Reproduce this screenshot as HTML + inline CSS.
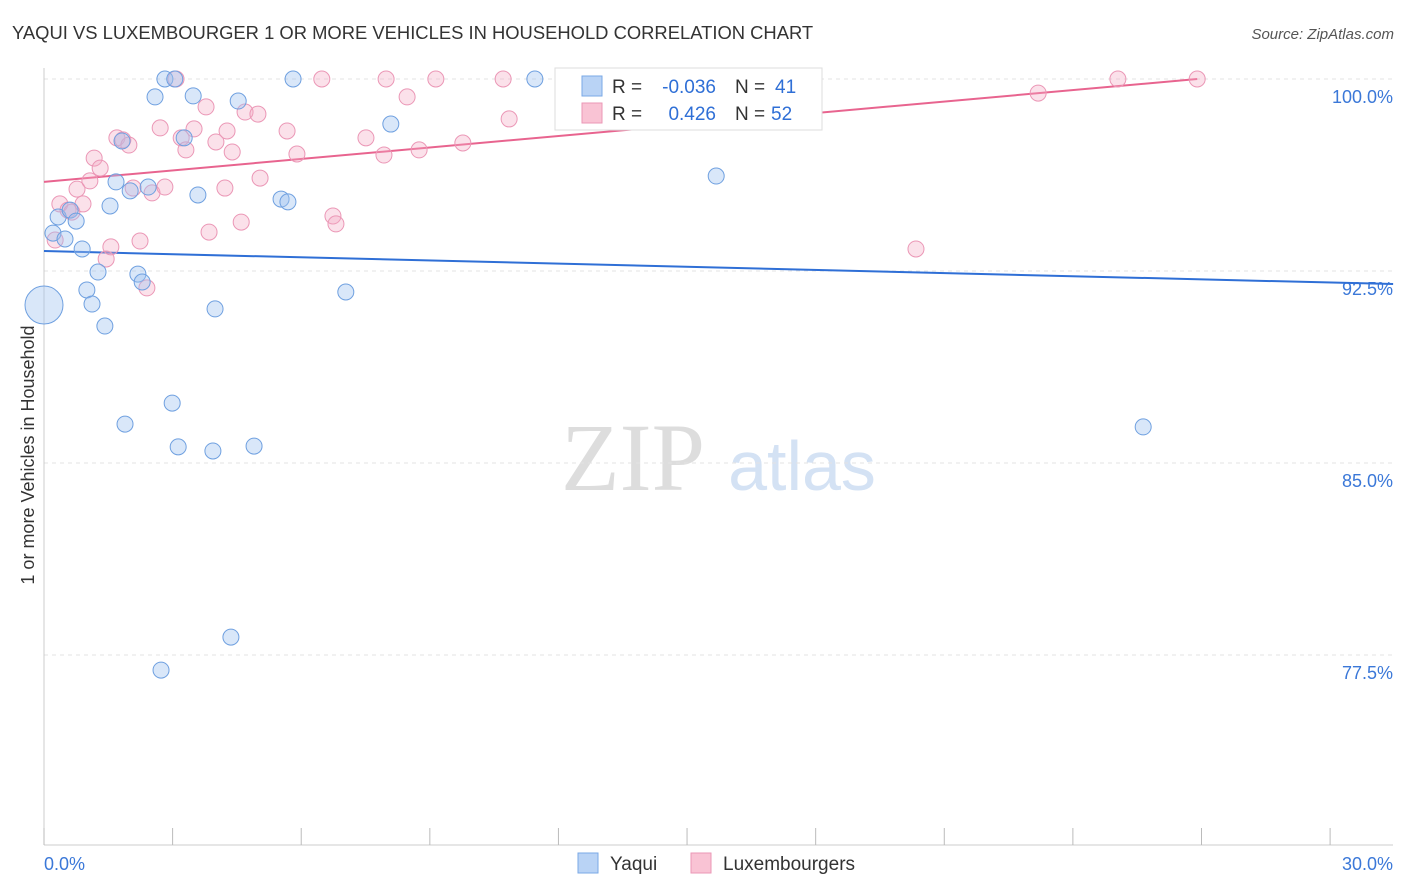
<!DOCTYPE html>
<html><head><meta charset="utf-8"><style>
body{margin:0;background:#fff;font-family:"Liberation Sans",sans-serif}
svg{display:block}
</style></head><body>
<svg id="chart" width="1406" height="892">
<text x="12" y="39" font-size="18.4" fill="#333">YAQUI VS LUXEMBOURGER 1 OR MORE VEHICLES IN HOUSEHOLD CORRELATION CHART</text>
<text x="1394" y="39" font-size="15" fill="#555" font-style="italic" text-anchor="end">Source: ZipAtlas.com</text>
<text transform="translate(34,455) rotate(-90)" font-size="18" fill="#333" text-anchor="middle">1 or more Vehicles in Household</text>
<g><text x="633" y="490" font-size="96" font-family="Liberation Serif,serif" fill="#ddd" text-anchor="middle">ZIP</text><text x="802" y="490" font-size="70" fill="#d4e2f4" text-anchor="middle">atlas</text></g>
<g id="grid"></g><g id="axes"></g><g id="lines"></g><g id="pts"></g>
<g>
<rect x="555" y="68" width="267" height="62" fill="#fff" stroke="#ddd"/>
<rect x="582" y="76" width="20" height="20" fill="#b9d3f5" stroke="#7aa8e6"/>
<rect x="582" y="103" width="20" height="20" fill="#f9c3d4" stroke="#eb97b6"/>
<text x="612" y="93" font-size="19" fill="#333">R =</text>
<text x="716" y="93" font-size="19" fill="#2f6fd6" text-anchor="end">-0.036</text>
<text x="735" y="93" font-size="19" fill="#333">N =</text>
<text x="775" y="93" font-size="19" fill="#2f6fd6">41</text>
<text x="612" y="120" font-size="19" fill="#333">R =</text>
<text x="716" y="120" font-size="19" fill="#2f6fd6" text-anchor="end">0.426</text>
<text x="735" y="120" font-size="19" fill="#333">N =</text>
<text x="771" y="120" font-size="19" fill="#2f6fd6">52</text>
</g>
<g>
<rect x="578" y="853" width="20" height="20" fill="#b9d3f5" stroke="#7aa8e6"/>
<text x="610" y="870" font-size="19" fill="#333">Yaqui</text>
<rect x="691" y="853" width="20" height="20" fill="#f9c3d4" stroke="#eb97b6"/>
<text x="723" y="870" font-size="19" fill="#333">Luxembourgers</text>
</g>
</svg>
<script>
const yTicks=[100,92.5,85,77.5];
const xTickLabels=["0.0%","30.0%"];
const blueX=[0.0,0.21,0.33,0.49,0.61,0.75,0.89,1.0,1.12,1.26,1.42,1.54,1.68,1.82,1.89,2.01,2.19,2.29,2.43,2.59,2.73,2.82,2.99,3.13,3.27,3.48,3.59,3.94,3.99,4.36,4.53,4.9,5.53,5.69,5.81,7.04,8.09,11.45,15.68,25.64,3.05];
const blueY=[91.17,93.98,94.61,93.75,94.88,94.45,93.36,91.76,91.21,92.46,90.35,95.04,95.98,97.58,86.52,95.63,92.38,92.07,95.78,99.3,76.91,100,87.34,85.63,97.7,99.34,95.47,85.47,91.02,78.2,99.14,85.66,95.31,95.2,100,91.68,98.24,100,96.21,86.41,100];
const pinkX=[0.26,0.37,0.56,0.65,0.77,0.91,1.07,1.17,1.31,1.45,1.56,1.70,1.84,1.98,2.08,2.24,2.40,2.52,2.71,2.82,3.08,3.20,3.31,3.50,3.78,3.85,4.01,4.22,4.27,4.39,4.60,4.69,4.99,5.04,5.67,5.90,6.48,6.74,6.81,7.51,7.93,7.98,8.47,8.75,9.14,9.77,10.71,10.85,20.34,23.19,25.05,26.90];
const pinkY=[93.71,95.12,94.88,94.80,95.70,95.12,96.02,96.91,96.52,92.97,93.44,97.70,97.62,97.42,95.74,93.67,91.84,95.55,98.09,95.78,100,97.70,97.23,98.05,98.91,94.02,97.54,95.74,97.97,97.15,94.41,98.71,98.63,96.13,97.97,97.07,100,94.65,94.34,97.70,97.03,100,99.30,97.23,100,97.50,100,98.44,93.36,99.45,100,100];
const blueTrend=[0,93.28,31.47,91.99];
const pinkTrend=[0,95.98,26.9,100];
const X=v=>44+v*42.87, Y=v=>79+(100-v)*25.6;
const NS="http://www.w3.org/2000/svg";
function mk(t,a,p){const e=document.createElementNS(NS,t);for(const k in a)e.setAttribute(k,a[k]);p.appendChild(e);return e;}
const grid=document.getElementById('grid'),axes=document.getElementById('axes');
yTicks.forEach(t=>{
 const l=mk('line',{x1:44,x2:1393,y1:Y(t),y2:Y(t),stroke:'#e3e3e3','stroke-dasharray':'4,4'},grid);
 
 
 const tx=mk('text',{x:1393,y:Y(t)+24,'font-size':18,fill:'#3b78d8','text-anchor':'end'},axes);
 tx.textContent=t.toFixed(1)+'%';
 
 
});
const xa=mk('line',{x1:44,x2:1393,y1:845,y2:845,stroke:'#ccc'},axes);


const ya=mk('line',{x1:44,x2:44,y1:68,y2:845,stroke:'#ccc'},axes);


for(let i=0;i<=10;i++){const t=mk('line',{x1:X(i*3),x2:X(i*3),y1:828,y2:845,stroke:'#bbb'},axes);
 
 }
[[0,'start'],[30,'end']].forEach((d,i)=>{const t=mk('text',{x:i?1393:44,y:870,'font-size':18,fill:'#3b78d8','text-anchor':d[1]},axes);t.textContent=xTickLabels[i];
 
 });
const pts=document.getElementById('pts');
pinkX.forEach((x,i)=>{const c=mk('circle',{cx:X(x),cy:Y(pinkY[i]),r:8,fill:'rgba(244,170,196,0.35)',stroke:'#eb97b6','stroke-width':1},pts);
 
 });
blueX.forEach((x,i)=>{const c=mk('circle',{cx:X(x),cy:Y(blueY[i]),r:i==0?19:8,fill:'rgba(160,196,240,0.4)',stroke:'#6fa0e0','stroke-width':1},pts);
 
 });
const lines=document.getElementById('lines');
const bl=mk('line',{x1:X(blueTrend[0]),y1:Y(blueTrend[1]),x2:X(blueTrend[2]),y2:Y(blueTrend[3]),stroke:'#2f6fd6','stroke-width':2},lines);


const pl=mk('line',{x1:X(pinkTrend[0]),y1:Y(pinkTrend[1]),x2:X(pinkTrend[2]),y2:Y(pinkTrend[3]),stroke:'#e8648f','stroke-width':2},lines);


</script>
</body></html>
